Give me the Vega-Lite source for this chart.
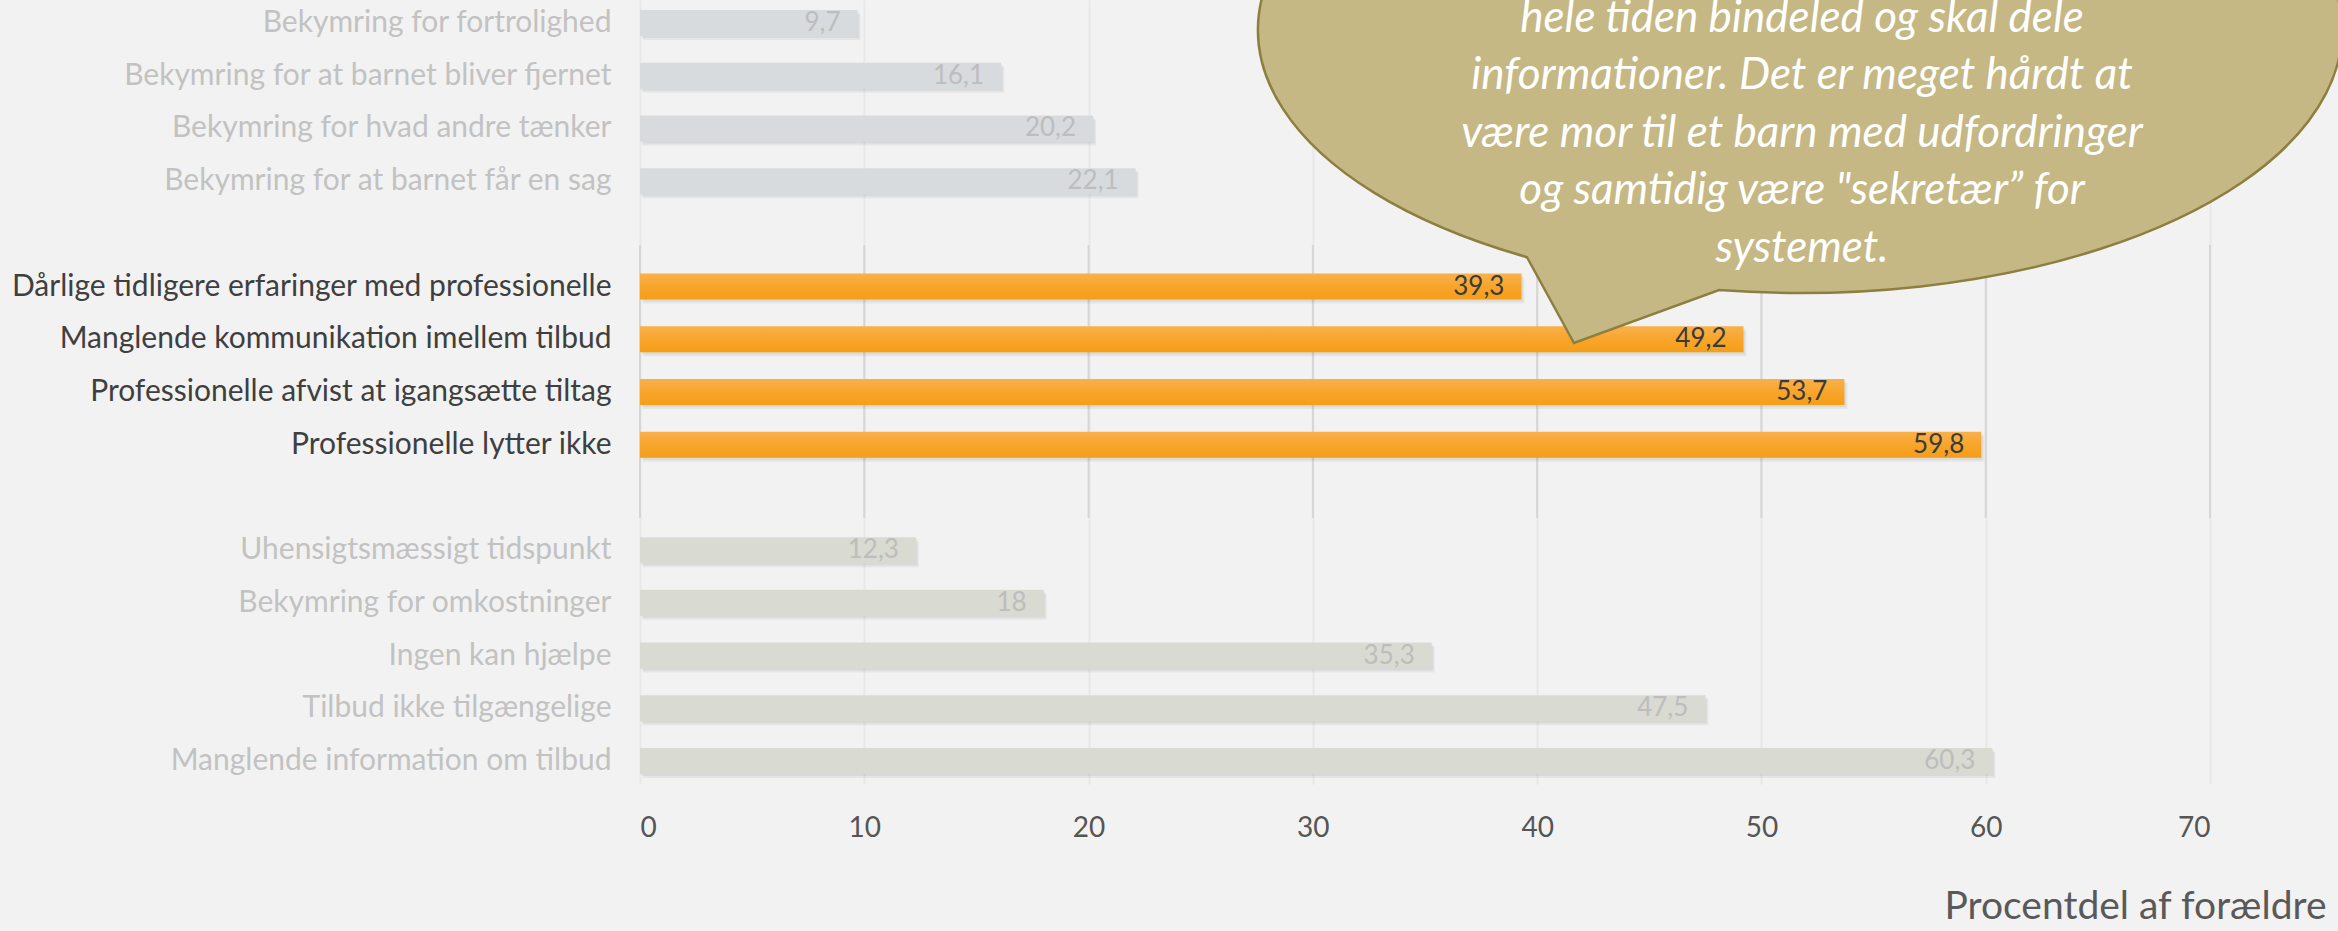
{
  "$schema": "https://vega.github.io/schema/vega-lite/v6.json",
  "width": 1570,
  "height": 784,
  "autosize": {"type": "none"},
  "padding": {"left": 640, "top": 0, "right": 128, "bottom": 147},
  "background": "#f2f2f2",
  "config": {
    "view": {"stroke": null},
    "font": "Lato",
    "locale": {"number": {"decimal": ",", "thousands": ".", "grouping": [3], "currency": ["", " kr."]}},
    "axisX": {
      "grid": true, "gridColor": "#e8e8e8", "gridWidth": 2,
      "ticks": false, "tickSize": 0, "domain": false, "tickCount": 7,
      "labelFont": "Lato", "labelFontSize": 28, "labelColor": "#555555", "labelPadding": 30,
      "titleFont": "Lato", "titleFontSize": 39, "titleFontWeight": "normal", "titleColor": "#595959",
      "titleX": 1686, "titleY": 134, "titleAlign": "right", "titleBaseline": "alphabetic"
    }
  },
  "datasets": {
    "bars": [
      {"cat": "Bekymring for fortrolighed", "value": 9.7, "group": "a"},
      {"cat": "Bekymring for at barnet bliver fjernet", "value": 16.1, "group": "a"},
      {"cat": "Bekymring for hvad andre tænker", "value": 20.2, "group": "a"},
      {"cat": "Bekymring for at barnet får en sag", "value": 22.1, "group": "a"},
      {"cat": "Dårlige tidligere erfaringer med professionelle", "value": 39.3, "group": "b"},
      {"cat": "Manglende kommunikation imellem tilbud", "value": 49.2, "group": "b"},
      {"cat": "Professionelle afvist at igangsætte tiltag", "value": 53.7, "group": "b"},
      {"cat": "Professionelle lytter ikke", "value": 59.8, "group": "b"},
      {"cat": "Uhensigtsmæssigt tidspunkt", "value": 12.3, "group": "c"},
      {"cat": "Bekymring for omkostninger", "value": 18, "group": "c"},
      {"cat": "Ingen kan hjælpe", "value": 35.3, "group": "c"},
      {"cat": "Tilbud ikke tilgængelige", "value": 47.5, "group": "c"},
      {"cat": "Manglende information om tilbud", "value": 60.3, "group": "c"}
    ],
    "ticks": [{"v": 0}, {"v": 10}, {"v": 20}, {"v": 30}, {"v": 40}, {"v": 50}, {"v": 60}, {"v": 70}]
  },
  "resolve": {"scale": {"y": "independent"}},
  "layer": [
    {
      "data": {"name": "ticks"},
      "mark": {"type": "rule", "color": "#d6d6d6", "strokeWidth": 2},
      "encoding": {
        "x": {"field": "v", "type": "quantitative", "title": "Procentdel af forældre", "scale": {"domain": [0, 70], "nice": false}},
        "y": {"datum": 4.648, "type": "quantitative", "scale": {"domain": [0, 14.873], "reverse": true, "nice": false, "zero": false}, "axis": null},
        "y2": {"datum": 9.827}
      }
    },
    {
      "data": {"name": "bars"},
      "encoding": {
        "y": {
          "field": "cat", "type": "nominal",
          "scale": {
            "domain": ["Bekymring for fortrolighed", "Bekymring for at barnet bliver fjernet", "Bekymring for hvad andre tænker", "Bekymring for at barnet får en sag", " ", "Dårlige tidligere erfaringer med professionelle", "Manglende kommunikation imellem tilbud", "Professionelle afvist at igangsætte tiltag", "Professionelle lytter ikke", "  ", "Uhensigtsmæssigt tidspunkt", "Bekymring for omkostninger", "Ingen kan hjælpe", "Tilbud ikke tilgængelige", "Manglende information om tilbud"],
            "paddingInner": 0.507, "paddingOuter": 0.19
          },
          "axis": {
            "title": null, "ticks": false, "tickSize": 0, "domain": false, "grid": false,
            "labelFont": "Lato", "labelFontSize": 30, "labelPadding": 29, "labelLimit": 900,
            "labelColor": {
              "condition": {"test": "indexof(['Dårlige tidligere erfaringer med professionelle', 'Manglende kommunikation imellem tilbud', 'Professionelle afvist at igangsætte tiltag', 'Professionelle lytter ikke'], datum.value) >= 0", "value": "#3f3f3f"},
              "value": "#c2c2c2"
            }
          }
        },
        "x": {"field": "value", "type": "quantitative", "title": "Procentdel af forældre", "scale": {"domain": [0, 70], "nice": false}}
      },
      "layer": [
        {
          "mark": {"type": "bar", "color": "#000000", "opacity": 0.05, "xOffset": 3, "yOffset": 4}
        },
        {
          "mark": {"type": "bar", "color": "#000000", "opacity": 0.05, "xOffset": 1.5, "yOffset": 2}
        },
        {
          "transform": [{"filter": "datum.group !== 'b'"}],
          "mark": {"type": "bar"},
          "encoding": {
            "color": {
              "field": "group", "type": "nominal",
              "scale": {"domain": ["a", "c"], "range": ["#d7dbdd", "#d9dad1"]},
              "legend": null
            }
          }
        },
        {
          "transform": [{"filter": "datum.group === 'b'"}],
          "mark": {
            "type": "bar",
            "color": {
              "gradient": "linear", "x1": 0, "y1": 0, "x2": 0, "y2": 1,
              "stops": [
                {"offset": 0, "color": "#f9b04c"},
                {"offset": 0.5, "color": "#f8a52b"},
                {"offset": 1, "color": "#f59e18"}
              ]
            }
          }
        },
        {
          "mark": {"type": "text", "align": "right", "baseline": "middle", "dx": -17, "font": "Lato", "fontSize": 26},
          "encoding": {
            "text": {"field": "value", "type": "quantitative", "format": "~g"},
            "color": {
              "condition": {"test": "datum.group === 'b'", "value": "#3b3b3b"},
              "value": "#bdbdbd"
            }
          }
        }
      ]
    },
    {
      "data": {"values": [{}]},
      "encoding": {
        "x": {"datum": 51.72, "type": "quantitative", "title": "Procentdel af forældre", "scale": {"domain": [0, 70], "nice": false}},
        "y": {"datum": 0.569, "type": "quantitative", "scale": {"domain": [0, 14.873], "reverse": true, "nice": false, "zero": false}, "axis": null}
      },
      "layer": [
        {
          "mark": {
            "type": "point",
            "shape": "M -0.5037 0.4192 A 1 0.4852 0 1 1 -0.1494 0.4798 L -0.417 0.5775 Z",
            "size": 1175056,
            "filled": true,
            "fill": "#c5b884",
            "stroke": "#8d7f3f",
            "strokeWidth": 2.5,
            "opacity": 1
          }
        },
        {
          "mark": {
            "type": "text",
            "align": "center",
            "baseline": "alphabetic",
            "font": "Lato",
            "fontStyle": "italic",
            "fontSize": 44,
            "lineHeight": 57.5,
            "color": "#ffffff"
          },
          "encoding": {
            "x": {"datum": 51.81, "type": "quantitative", "title": "Procentdel af forældre"},
            "y": {"datum": 0.607, "type": "quantitative"},
            "text": {"value": ["hele tiden bindeled og skal dele", "informationer. Det er meget hårdt at", "være mor til et barn med udfordringer", "og samtidig være \"sekretær” for", "systemet."]}
          }
        }
      ]
    }
  ]
}
